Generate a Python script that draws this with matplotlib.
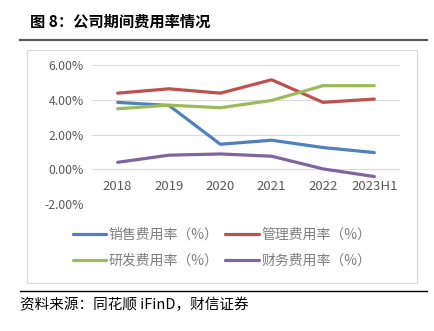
import matplotlib.pyplot as plt
from matplotlib.lines import Line2D
from matplotlib.patches import Rectangle

plt.rcParams['font.family'] = ['Noto Sans CJK SC', 'DejaVu Sans']

# data
years = ['2018', '2019', '2020', '2021', '2022', '2023H1']
sales_rate = [3.85, 3.67, 1.44, 1.67, 1.25, 0.96]
admin_rate = [4.38, 4.63, 4.38, 5.15, 3.85, 4.04]
rd_rate = [3.48, 3.69, 3.54, 3.96, 4.81, 4.81]
finance_rate = [0.40, 0.81, 0.88, 0.75, 0.02, -0.42]
series_names = ['销售费用率（%）', '管理费用率（%）', '研发费用率（%）', '财务费用率（%）']
y_ticks = [-2, 0, 2, 4, 6]

colors = ['#4F81BD', '#C0504D', '#9BBB59', '#8064A2']

W, H = 435, 331
fig = plt.figure(figsize=(W / 100, H / 100), dpi=100)

def fx(px):
  return px / W

def fy(py):
  return 1 - py / H

# title and rules
fig.text(fx(30), fy(22), '图 8：公司期间费用率情况', fontsize=11, fontweight='bold',
         va='center', ha='left', color='black')
fig.add_artist(Line2D([fx(20), fx(427)], [fy(40), fy(40)], color='#595959', lw=1.6))
fig.add_artist(Rectangle((fx(27), fy(283)), fx(417) - fx(27), fy(50) - fy(283),
                         fill=False, ec='#D9D9D9', lw=0.8))
fig.add_artist(Line2D([fx(20), fx(427)], [fy(291), fy(291)], color='black', lw=1.0))
fig.text(fx(20), fy(305), '资料来源：同花顺 iFinD，财信证券', fontsize=10.5, style='italic',
         va='center', ha='left', color='black')

# plot area
ax = fig.add_axes([fx(92), fy(204), fx(400) - fx(92), fy(65) - fy(204)])
x = list(range(len(years)))
all_series = [sales_rate, admin_rate, rd_rate, finance_rate]
lines = []
for vals, c, name in zip(all_series, colors, series_names):
  ln, = ax.plot(x, vals, color=c, lw=2.3, label=name, solid_capstyle='round')
  lines.append(ln)

ax.set_xlim(-0.5, len(years) - 0.5)
ax.set_ylim(-2, 6)
ax.set_yticks(y_ticks)
ax.set_yticklabels(['%.2f%%' % v for v in y_ticks])
ax.set_xticks(x)
ax.set_xticklabels(years)
ax.grid(axis='y', color='#D9D9D9', lw=0.8)
ax.set_axisbelow(True)
for s in ['top', 'right', 'left']:
  ax.spines[s].set_visible(False)
ax.spines['bottom'].set_position(('data', 0))
ax.spines['bottom'].set_visible(False)
ax.tick_params(axis='both', length=0, colors='#595959')
ax.tick_params(axis='y', pad=6, labelsize=8.8)
ax.tick_params(axis='x', pad=8, labelsize=9.5)

# legend fills column-wise, so order it to read row by row
order = [0, 2, 1, 3]
fig.legend([lines[i] for i in order], [series_names[i] for i in order],
           loc='center', bbox_to_anchor=(fx(222), fy(248)), ncol=2, frameon=False,
           fontsize=10, handlelength=2.4, handletextpad=0.2, columnspacing=0.5,
           labelcolor='#7F7F7F', labelspacing=0.85)

fig.savefig('out.png', dpi=100)
